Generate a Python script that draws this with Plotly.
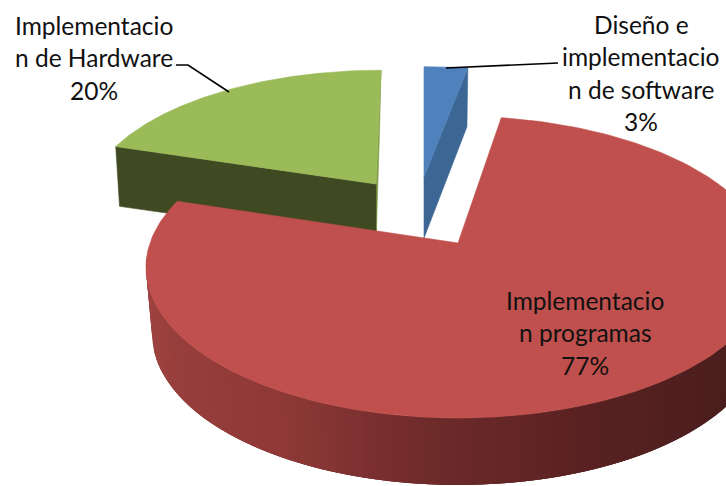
import numpy as np
import plotly.graph_objects as go

categories = ["Diseño e implementacion de software", "Implementacion programas", "Implementacion de Hardware"]
values = [2.6, 77.2, 20.2]
label_lines = [
    ["Diseño e", "implementacio", "n de software"],
    ["Implementacio", "n programas"],
    ["Implementacio", "n de Hardware"],
]
label_centers = [(641, 24), (585, 300), (94, 25)]
LINE_PITCH = 32.5
FONT = dict(family="Lato, Carlito, sans-serif", size=24.5, color="#111111")

tops = ["#4f81bd", "#c0504d", "#9bbb59"]
K = 0.16
# apex x, apex y, rim centre shift, A, B, depth, lower x scale, lower y scale, lower x shift
geom = [
    (424, 177, 0, 312, 128, 61, 0.98, 1.02, 0),
    (458, 243, 0, 308, 147, 67, 0.98, 1.0, 0),
    (376, 184, 5, 291, 132, 59, 0.98, 0.98, -1.5),
]
# clockwise from twelve o'clock
ends = np.cumsum(values) / sum(values) * 2 * np.pi
starts = np.concatenate([[0.0], ends[:-1]])


def rim(t, g, lower=False):
    x0, y0, dx, a, b, d, sx, sy, ldx = g
    u, v = np.sin(t), np.cos(t)
    den = 1 + K * v
    if lower:
        return x0 + dx + ldx + sx * a * u / den, y0 + d - sy * b * v / den
    return x0 + dx + a * u / den, y0 - b * v / den


def poly(xs, ys, color, name, lw=0.6):
    return go.Scatter(
        x=list(xs), y=list(ys), mode="lines", fill="toself", fillcolor=color,
        line=dict(color=color, width=lw), name=name, hoverinfo="name", showlegend=False,
    )


def top_face(i):
    g = geom[i]
    t = np.linspace(starts[i], ends[i], 240)
    x, y = rim(t, g)
    return poly(np.r_[g[0], x, g[0]], np.r_[g[1], y, g[1]], tops[i], categories[i])


def edge_face(i, t, color):
    g = geom[i]
    xr, yr = rim(t, g)
    xl, yl = rim(t, g, lower=True)
    return poly([g[0], xr, xl, g[0], g[0]], [g[1], yr, yl, g[1] + g[5], g[1]], color, categories[i])


fig = go.Figure()

# green wedge: cut faces then top
fig.add_trace(edge_face(2, ends[2], "#7f9c45"))
fig.add_trace(edge_face(2, starts[2], "#3f4a22"))
fig.add_trace(top_face(2))

# blue wedge: cut face then top
fig.add_trace(edge_face(0, ends[0], "#3c6694"))
fig.add_trace(top_face(0))

# red wedge: shaded curved side then top; each strip overlaps the next so no seams show
stops_t = np.radians([80, 130, 160, 185, 210, 250, 275, 288])
stops_rgb = np.array([
    [74, 29, 29], [76, 30, 30], [90, 34, 34], [112, 43, 43],
    [143, 58, 56], [156, 66, 63], [162, 70, 68], [162, 70, 68],
], dtype=float)
side_end = np.radians(262)  # past this the lower rim sits behind the top face
edges = np.linspace(stops_t[0], side_end, 121)
step = edges[1] - edges[0]
for a, b in zip(edges[:-1], edges[1:]):
    mid = (a + b) / 2
    rgb = [int(np.interp(mid, stops_t, stops_rgb[:, c])) for c in range(3)]
    col = f"rgb({rgb[0]},{rgb[1]},{rgb[2]})"
    tt = np.linspace(a, min(b + 2 * step, ends[1]), 5)
    xu, yu = rim(tt, geom[1])
    xl, yl = rim(tt, geom[1], lower=True)
    fig.add_trace(poly(np.r_[xu, xl[::-1], xu[0]], np.r_[yu, yl[::-1], yu[0]], col, categories[1], lw=0))
fig.add_trace(top_face(1))

# leader lines
leaders = [
    ([446, 555, 558], [68, 63, 63]),
    ([176, 188, 229], [65, 65, 92]),
]
for lx, ly in leaders:
    fig.add_trace(go.Scatter(x=lx, y=ly, mode="lines", line=dict(color="black", width=1.6),
                             hoverinfo="skip", showlegend=False))

for lines, v, (cx, cy) in zip(label_lines, values, label_centers):
    for j, line in enumerate(lines + [f"{round(v)}%"]):
        fig.add_annotation(x=cx, y=cy + j * LINE_PITCH, text=line, showarrow=False,
                           xanchor="center", yanchor="middle", font=FONT)

fig.update_layout(
    width=726, height=486, margin=dict(l=0, r=0, t=0, b=0),
    paper_bgcolor="white", plot_bgcolor="white", showlegend=False,
    xaxis=dict(range=[0, 726], visible=False, fixedrange=True),
    yaxis=dict(range=[486, 0], visible=False, fixedrange=True),
)
fig.write_html("out.html", config={"displayModeBar": False},
               post_script="document.body.style.margin='0';document.body.style.overflow='hidden';")
